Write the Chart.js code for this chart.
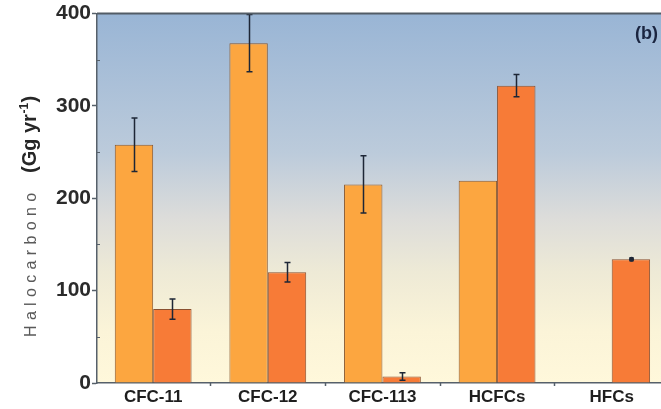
<!DOCTYPE html>
<html>
<head>
<meta charset="utf-8">
<script src="https://cdn.jsdelivr.net/npm/chart.js@4/dist/chart.umd.min.js"></script>
<style>
  html,body{margin:0;padding:0;background:#ffffff;}
  #wrap{width:661px;height:409px;}
</style>
</head>
<body>
<div id="wrap"><canvas id="c" width="661" height="409"></canvas></div>
<script>
const categories = ['CFC-11', 'CFC-12', 'CFC-113', 'HCFCs', 'HFCs'];
const seriesA = [258, 368, 215, 219, null];
const errorsA = [29, 31, 31, null, null];
const seriesB = [80, 120, 7, 322, 134];
const errorsB = [11, 10.5, 4, 12, 1.5];
const yTickValues = [0, 100, 200, 300, 400];
const yMinorValues = [50, 150, 250, 350];
const xDividerValues = [0.5, 1.5, 2.5, 3.5];
const panelLabel = '(b)';
const axisTitleMain = 'Halocarbono';
const axisTitleUnit = '(Gg yr';
const axisTitleSup = '-1';
const axisTitleEnd = ')';

const toPoints = arr => arr.map((v, i) => ({x: i, y: v}));

const bgPlugin = {
  id: 'bg',
  beforeDraw(chart) {
    const {ctx, chartArea: a} = chart;
    const g = ctx.createLinearGradient(0, a.top, 0, a.bottom);
    g.addColorStop(0, '#99b5d5');
    g.addColorStop(0.38, '#bccbdb');
    g.addColorStop(0.55, '#dcdcda');
    g.addColorStop(0.70, '#eeead6');
    g.addColorStop(0.86, '#fbf4d8');
    g.addColorStop(1, '#fff8db');
    ctx.save();
    ctx.fillStyle = g;
    ctx.fillRect(a.left, a.top, a.right - a.left, a.bottom - a.top);
    ctx.restore();
  }
};

const errPlugin = {
  id: 'errbars',
  afterDatasetsDraw(chart) {
    const {ctx} = chart;
    const ys = chart.scales.y;
    const errs = [errorsA, errorsB];
    ctx.save();
    ctx.strokeStyle = '#1d2636';
    ctx.lineWidth = 1.5;
    chart.data.datasets.forEach((ds, di) => {
      const meta = chart.getDatasetMeta(di);
      meta.data.forEach((bar, j) => {
        const v = ds.data[j].y;
        const e = errs[di][j];
        if (v == null || e == null) return;
        const x = Math.round(bar.x) + 0.5;
        const y1 = ys.getPixelForValue(v + e);
        const y2 = ys.getPixelForValue(v - e);
        const cw = e < 3 ? 2 : 3;
        ctx.beginPath();
        ctx.moveTo(x, y1); ctx.lineTo(x, y2);
        ctx.moveTo(x - cw, y1); ctx.lineTo(x + cw, y1);
        ctx.moveTo(x - cw, y2); ctx.lineTo(x + cw, y2);
        ctx.stroke();
        if (e < 3) {
          ctx.fillStyle = '#1d2636';
          ctx.beginPath();
          ctx.arc(x, ys.getPixelForValue(v), 2.5, 0, Math.PI * 2);
          ctx.fill();
        }
      });
    });
    ctx.restore();
  }
};

const decoPlugin = {
  id: 'deco',
  afterDraw(chart) {
    const {ctx, chartArea: a} = chart;
    const ys = chart.scales.y;
    const xs = chart.scales.x;
    ctx.save();
    // top frame line
    ctx.strokeStyle = '#525c66';
    ctx.lineWidth = 2;
    ctx.beginPath();
    ctx.moveTo(a.left, a.top); ctx.lineTo(a.right, a.top);
    ctx.stroke();
    // minor y ticks (inside)
    ctx.lineWidth = 1;
    ctx.strokeStyle = '#56606a';
    yMinorValues.forEach(v => {
      const y = Math.round(ys.getPixelForValue(v)) + 0.5;
      ctx.beginPath();
      ctx.moveTo(a.left, y); ctx.lineTo(a.left + 3, y);
      ctx.stroke();
    });
    // x dividers ticks (below axis)
    ctx.lineWidth = 1.5;
    xDividerValues.forEach(v => {
      const x = Math.round(xs.getPixelForValue(v)) + 0.5;
      ctx.beginPath();
      ctx.moveTo(x, a.bottom); ctx.lineTo(x, a.bottom + 3);
      ctx.stroke();
    });
    // panel label
    ctx.fillStyle = '#1b2540';
    ctx.font = 'bold 18px "Liberation Sans", Arial, sans-serif';
    ctx.textAlign = 'right';
    ctx.textBaseline = 'middle';
    ctx.fillText(panelLabel, 658, 34);
    // rotated axis title
    ctx.translate(36, 337);
    ctx.rotate(-Math.PI / 2);
    ctx.textAlign = 'left';
    ctx.textBaseline = 'alphabetic';
    ctx.font = '16px "Liberation Sans", Arial, sans-serif';
    ctx.fillStyle = '#5a5a5a';
    ctx.letterSpacing = '0px';
    const w0 = ctx.measureText(axisTitleMain).width;
    const sp = (144 - w0) / (axisTitleMain.length - 1);
    ctx.letterSpacing = sp.toFixed(2) + 'px';
    ctx.fillText(axisTitleMain, 0, 0);
    ctx.letterSpacing = '0px';
    let x = 164;
    ctx.fillStyle = '#262626';
    ctx.font = 'bold 20px "Liberation Sans", Arial, sans-serif';
    ctx.fillText(axisTitleUnit, x, 0);
    x += ctx.measureText(axisTitleUnit).width + 0.5;
    ctx.font = 'bold 12px "Liberation Sans", Arial, sans-serif';
    ctx.fillText(axisTitleSup, x, -8);
    x += ctx.measureText(axisTitleSup).width + 0.5;
    ctx.font = 'bold 20px "Liberation Sans", Arial, sans-serif';
    ctx.fillText(axisTitleEnd, x, 0);
    ctx.restore();
  }
};

new Chart(document.getElementById('c'), {
  type: 'bar',
  data: {
    datasets: [
      {
        label: 'A',
        data: toPoints(seriesA),
        backgroundColor: '#fca640',
        borderColor: '#8a5a30',
        borderWidth: 1,
        categoryPercentage: 0.67,
        barPercentage: 1.0
      },
      {
        label: 'B',
        data: toPoints(seriesB),
        backgroundColor: '#f77b37',
        borderColor: '#8a5030',
        borderWidth: 1,
        categoryPercentage: 0.67,
        barPercentage: 1.0
      }
    ]
  },
  options: {
    responsive: false,
    animation: false,
    devicePixelRatio: 1,
    layout: {padding: {top: 13, right: 0, left: 0, bottom: 0}},
    plugins: {legend: {display: false}, tooltip: {enabled: false}},
    scales: {
      x: {
        type: 'linear',
        min: -0.49,
        max: 4.43,
        offset: false,
        afterFit: s => { s.height = 26; },
        afterBuildTicks: s => { s.ticks = categories.map((c, i) => ({value: i})); },
        grid: {
          drawOnChartArea: false,
          drawTicks: true,
          tickLength: 3,
          tickColor: 'rgba(0,0,0,0)'
        },
        border: {display: true, color: '#56606a', width: 1.5},
        ticks: {
          autoSkip: false,
          maxRotation: 0,
          padding: 1,
          color: '#1e1e1e',
          font: {family: '"Liberation Sans", Arial, sans-serif', size: 17, weight: 'bold'},
          callback: v => categories[v] !== undefined ? categories[v] : ''
        }
      },
      y: {
        min: 0,
        max: 400,
        afterFit: s => { s.width = 97; },
        afterBuildTicks: s => { s.ticks = yTickValues.map(v => ({value: v})); },
        grid: {
          drawOnChartArea: false,
          drawTicks: true,
          tickLength: 5,
          tickColor: '#56606a',
          tickWidth: 1.5
        },
        border: {display: true, color: '#56606a', width: 1.5},
        ticks: {
          padding: 1,
          color: '#2b2b2b',
          font: {family: '"Liberation Sans", Arial, sans-serif', size: 21, weight: 'bold'}
        }
      }
    }
  },
  plugins: [bgPlugin, errPlugin, decoPlugin]
});
</script>
</body>
</html>
